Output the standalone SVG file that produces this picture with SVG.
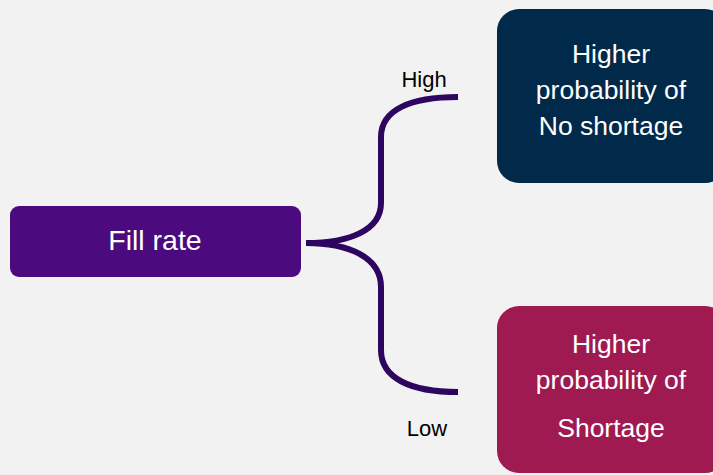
<svg xmlns="http://www.w3.org/2000/svg" width="713" height="475" viewBox="0 0 713 475">
<style>
.t{font-family:"Liberation Sans",Arial,sans-serif;fill:#fff;text-anchor:middle}
.lbl{font-family:"Liberation Sans",Arial,sans-serif;fill:#000;font-size:22px;text-anchor:middle}
.br{fill:none;stroke:#2E0660;stroke-width:6;stroke-linecap:butt}
</style>
<rect width="713" height="475" fill="#F2F2F2"/>
<g id="connectors">
<path class="br" d="M306,243 C350,243 381,230 381,203 L381,137 C381,110 410,97 458,97"/>
<path class="br" d="M306,243 C350,243 381,258 381,287 L381,350 C381,378 410,392 458,392"/>
<text class="lbl" x="424" y="87">High</text>
<text class="lbl" x="427" y="436">Low</text>
</g>
<g id="fill-rate">
<rect x="10" y="206" width="291" height="71" rx="9" fill="#4B0A7D"/>
<text class="t" x="155" y="250" font-size="28.5">Fill rate</text>
</g>
<g id="no-shortage">
<rect x="497" y="9" width="230" height="174" rx="22" fill="#012A4A"/>
<text class="t" x="611" y="63" font-size="26.5">Higher</text>
<text class="t" x="611" y="99" font-size="26.5">probability of</text>
<text class="t" x="611" y="135" font-size="26.5">No shortage</text>
</g>
<g id="shortage">
<rect x="497" y="306" width="230" height="167" rx="22" fill="#9E1A50"/>
<text class="t" x="611" y="353" font-size="26.5">Higher</text>
<text class="t" x="611" y="389" font-size="26.5">probability of</text>
<text class="t" x="611" y="437" font-size="26.5">Shortage</text>
</g>
</svg>
